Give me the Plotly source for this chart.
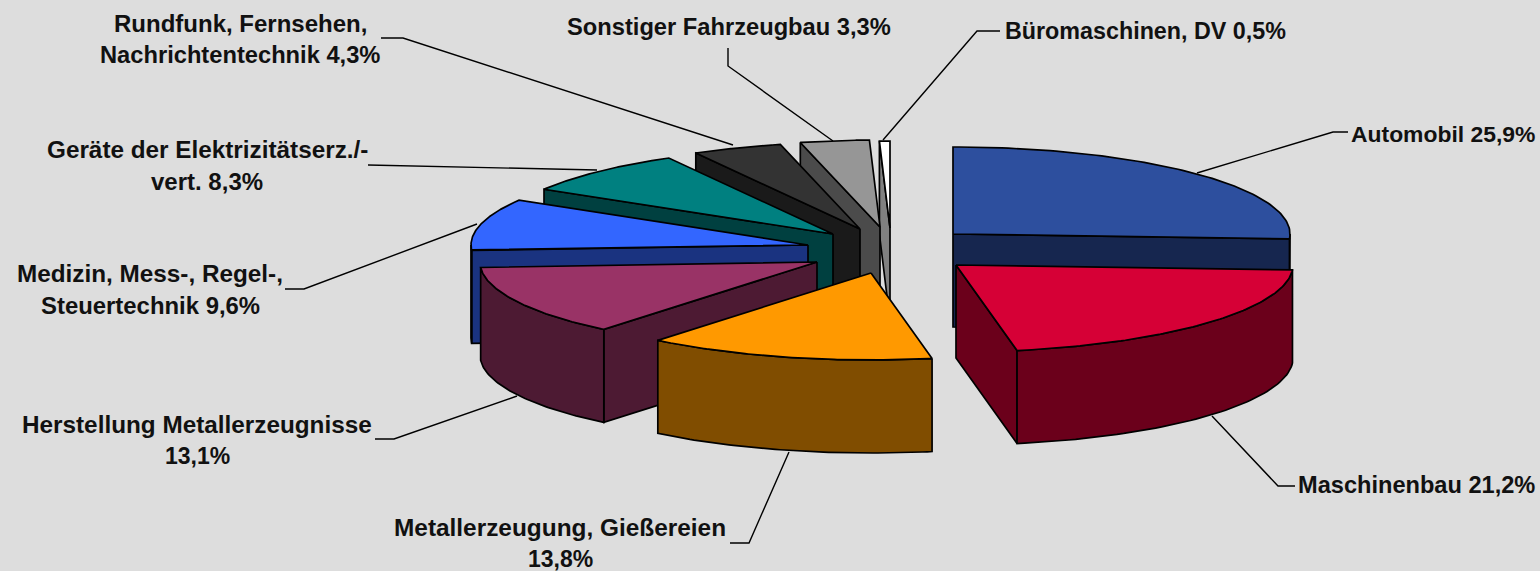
import numpy as np
import plotly.graph_objects as go

# ---- data ----
categories = ["Automobil", "Maschinenbau", "Metallerzeugung, Gießereien",
              "Herstellung Metallerzeugnisse", "Medizin, Mess-, Regel-, Steuertechnik",
              "Geräte der Elektrizitätserz./-vert.", "Rundfunk, Fernsehen, Nachrichtentechnik",
              "Sonstiger Fahrzeugbau", "Büromaschinen, DV"]
values = [25.9, 21.2, 13.8, 13.1, 9.6, 8.3, 4.3, 3.3, 0.5]
label_lines = [["Automobil 25,9%"], ["Maschinenbau 21,2%"],
               ["Metallerzeugung, Gießereien", "13,8%"],
               ["Herstellung Metallerzeugnisse", "13,1%"],
               ["Medizin, Mess-, Regel-,", "Steuertechnik 9,6%"],
               ["Geräte der Elektrizitätserz./-", "vert. 8,3%"],
               ["Rundfunk, Fernsehen,", "Nachrichtentechnik 4,3%"],
               ["Sonstiger Fahrzeugbau 3,3%"], ["Büromaschinen, DV 0,5%"]]

# ---- styles and layout ----
top_colors = ["#2D4F9E", "#D60036", "#FF9900", "#993366", "#3366FF", "#008080", "#333333", "#969696", "#FFFFFF"]
wall_colors = ["#16264F", "#6B001B", "#804D00", "#4D1A33", "#1A3380", "#004040", "#1A1A1A", "#4B4B4B", "#808080"]
RX, RY, THICK = 337, 87, 93
CX, CY = 880, 250
explode_dx = [73, 76, -9, -63, -72, -47, -20, 0, 10]
explode_dy = [-16, 15, 23, 12, -5, -16, -21, -23, -22]
label_x = [1443, 1416, 560, 197, 150, 207, 240, 729, 1145]
label_y = [[134], [485], [527, 559], [424, 456], [273, 305], [149, 181], [23, 55], [27], [31]]
label_size = [[22.9], [23.6], [24.4, 23], [24.3, 23], [24.3, 23.9], [24.3, 24], [24, 23.7], [23.7], [23.3]]
leaders = [[(1197, 173), (1333, 132), (1348, 132)],
           [(1212, 416), (1278, 486), (1295, 486)],
           [(789, 452), (749, 543), (730, 543)],
           [(517, 396), (394, 439), (375, 439)],
           [(477, 224), (304, 289), (285, 289)],
           [(597, 170), (386, 165), (368, 165)],
           [(733, 145), (403, 38), (381, 38)],
           [(833, 141), (728, 66), (728, 48)],
           [(883, 140), (977, 31), (1000, 31)]]
BG = "#DDDDDD"
LINE = dict(color="#000000", width=1.7)

fig = go.Figure()


def poly(xs, ys, fill):
    fig.add_trace(go.Scatter(x=list(xs), y=list(ys), mode="lines", fill="toself", fillcolor=fill,
                             line=LINE, hoverinfo="skip", showlegend=False))


for pts in leaders:
    fig.add_trace(go.Scatter(x=[p[0] for p in pts], y=[p[1] for p in pts], mode="lines",
                             line=dict(color="#000000", width=1.4), hoverinfo="skip", showlegend=False))

# angles clockwise from 12 o'clock, derived from the values
edges = np.concatenate([[0], np.cumsum(values)]) / sum(values) * 360
starts, ends = edges[:-1], edges[1:]


def slice_geom(i):
    ax, ay = CX + explode_dx[i], CY + explode_dy[i]
    px = lambda t: ax + RX * np.sin(np.radians(t))
    py = lambda t: ay - RY * np.cos(np.radians(t))
    return ax, ay, px, py


def draw(i):
    s, e = starts[i], ends[i]
    ax, ay, px, py = slice_geom(i)
    # flat cut faces turned towards the viewer
    for t, visible in ((s, np.sin(np.radians(s)) < 0), (e, np.sin(np.radians(e)) > 0)):
        if visible:
            poly([ax, px(t), px(t), ax, ax], [ay, py(t), py(t) + THICK, ay + THICK, ay], wall_colors[i])
    # curved outer wall (front half only)
    a, b = max(s, 90), min(e, 270)
    if a < b:
        t = np.linspace(a, b, 60)
        poly(np.r_[px(t), px(t[::-1]), px(t[0])],
             np.r_[py(t), py(t[::-1]) + THICK, py(t[0])], wall_colors[i])
    # top face
    t = np.linspace(s, e, 90)
    poly(np.r_[ax, px(t), ax], np.r_[ay, py(t), ay], top_colors[i])


# painter's order: rear slices first
for i in [0, 8, 7, 6, 5, 4, 3, 2, 1]:
    draw(i)

for lines, x, ys, sizes in zip(label_lines, label_x, label_y, label_size):
    for text, y, size in zip(lines, ys, sizes):
        fig.add_annotation(x=x, y=y, text=text, showarrow=False, xanchor="center", yanchor="middle",
                           font=dict(family="Liberation Sans", size=size, color="#111111", weight="bold"))

fig.update_xaxes(range=[0, 1540], visible=False, fixedrange=True)
fig.update_yaxes(range=[571, 0], visible=False, fixedrange=True)
fig.update_layout(width=1540, height=571, margin=dict(l=0, r=0, t=0, b=0),
                  paper_bgcolor=BG, plot_bgcolor=BG, showlegend=False)
fig.write_html("out.html", config={"displayModeBar": False},
               post_script="document.body.style.margin='0';document.body.style.background='#DDDDDD';")
